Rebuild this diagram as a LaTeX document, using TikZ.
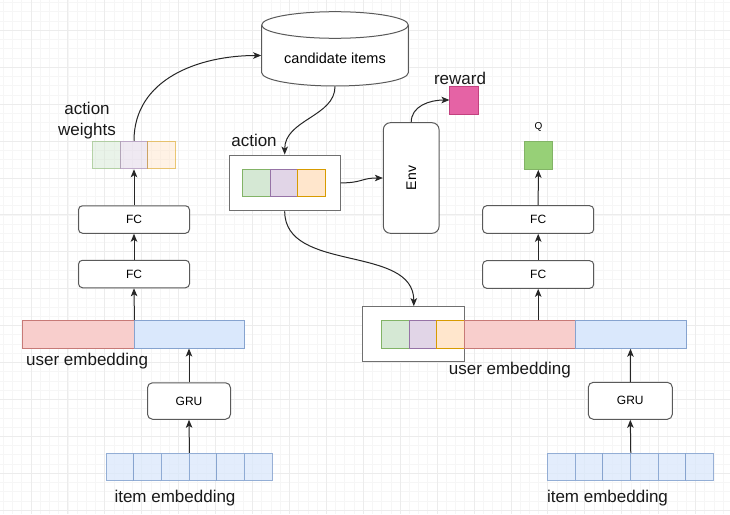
\documentclass[tikz,border=0pt]{standalone}
\usepackage{fontspec}
\setmainfont{Liberation Sans}
\usetikzlibrary{arrows.meta,calc}
\definecolor{gridmin}{HTML}{F6F6F6}
\definecolor{gridmaj}{HTML}{ECECEC}
\definecolor{boxc}{HTML}{5A5A5A}
\definecolor{contc}{HTML}{707070}
\definecolor{linec}{HTML}{262626}
\definecolor{gF}{HTML}{D5E8D4}\definecolor{gD}{HTML}{82B366}
\definecolor{pF}{HTML}{E1D5E7}\definecolor{pD}{HTML}{9673A6}
\definecolor{oF}{HTML}{FFE6CC}\definecolor{oD}{HTML}{D79B00}
\definecolor{rF}{HTML}{F8CECC}\definecolor{rD}{HTML}{C77A77}
\definecolor{bF}{HTML}{DAE8FC}\definecolor{bD}{HTML}{86A3CF}
\definecolor{qF}{HTML}{97D077}\definecolor{qD}{HTML}{82B366}
\definecolor{mF}{HTML}{E563A5}\definecolor{mD}{HTML}{C2417F}
\begin{document}
\begin{tikzpicture}[x=1pt,y=-1pt,line width=1pt,
  gminor/.style={draw=gridmin,line width=0.8pt},
  gmajor/.style={draw=gridmaj,line width=0.9pt},
  rbox/.style={draw=boxc,fill=white,rounded corners=4pt,inner sep=0pt,font=\fontsize{12}{14}\selectfont},
  cont/.style={draw=contc,fill=white,inner sep=0pt},
  cell/.style={inner sep=0pt,line width=0.9pt,minimum width=27.7pt,minimum height=27.6pt},
  gcell/.style={cell,fill=gF,draw=gD},
  pcell/.style={cell,fill=pF,draw=pD},
  ocell/.style={cell,fill=oF,draw=oD},
  rbar/.style={inner sep=0pt,line width=0.9pt,minimum height=27.6pt,fill=rF,draw=rD},
  bbar/.style={inner sep=0pt,line width=0.9pt,minimum height=27.6pt,fill=bF,draw=bD},
  icell/.style={cell,minimum width=27.67pt,fill=bF,fill opacity=0.75,draw=bD,draw opacity=0.85},
  faded/.style={opacity=0.5},
  lab/.style={inner sep=0pt,font=\fontsize{17}{21}\selectfont,text=black!90},
  arr/.style={draw=linec,-{Stealth[length=8pt,width=6.5pt,inset=2pt]}},
  ]
\useasboundingbox (0,0) rectangle (730,514);
\fill[white] (0,0) rectangle (730,514);
% grid
\foreach \i in {0,...,80} {\draw[gminor] ({-5.92+9.23*\i},0) -- ({-5.92+9.23*\i},514);}
\foreach \j in {0,...,57} {\draw[gminor] (0,{-6.62+9.23*\j}) -- (730,{-6.62+9.23*\j});}
\foreach \i in {0,...,20} {\draw[gmajor] ({-5.92+36.92*\i},0) -- ({-5.92+36.92*\i},514);}
\foreach \j in {0,...,14} {\draw[gmajor] (0,{-6.62+36.92*\j}) -- (730,{-6.62+36.92*\j});}

% ---------- left column ----------
\node[gcell,faded] (aw1) at (106.3,155) {};
\node[pcell,faded] (aw2) at (134,155) {};
\node[ocell,faded] (aw3) at (161.7,155) {};
\node[lab,align=center] (awt) at (87,120.5) {action\\weights};
\node[rbox,minimum width=111pt,minimum height=27.5pt] (fcL2) at (134,219.5) {FC};
\node[rbox,minimum width=111pt,minimum height=27.5pt] (fcL1) at (134,274) {FC};
\node[rbar,minimum width=112pt] (ueLp) at (78,334.3) {};
\node[bbar,minimum width=110pt] (ueLb) at (189,334.3) {};
\node[lab,anchor=west] (ueLt) at (25.7,361) {user embedding};
\node[rbox,rounded corners=5pt,minimum width=83pt,minimum height=36.5pt] (gruL) at (189,401) {GRU};
\foreach \i in {1,...,6} {\node[icell] (itL\i) at ({106+27.67*(\i-0.5)},467) {};}
\node[lab] (itLt) at (175,498) {item embedding};

% ---------- middle ----------
\node[inner sep=0pt,minimum width=146.6pt,minimum height=61pt] (cyl) at (335,55.5) {};
\fill[white] (261.7,25) -- (261.7,72.7) .. controls (261.7,80.05) and (294.52,86) .. (335,86)
  .. controls (375.48,86) and (408.3,80.05) .. (408.3,72.7) -- (408.3,25) -- cycle;
\draw[boxc] (261.7,25) -- (261.7,72.7) .. controls (261.7,80.05) and (294.52,86) .. (335,86)
  .. controls (375.48,86) and (408.3,80.05) .. (408.3,72.7) -- (408.3,25);
\draw[boxc,fill=white] (335,25) ellipse [x radius=73.3, y radius=13.3];
\node[inner sep=0pt,font=\fontsize{14.5}{17}\selectfont] (cylt) at (335,58.5) {candidate items};

\node[cont,minimum width=110.7pt,minimum height=55.7pt] (act) at (284.7,182.9) {};
\node[gcell] (ac1) at (256.2,182.9) {};
\node[pcell] (ac2) at (283.9,182.9) {};
\node[ocell] (ac3) at (311.5,182.9) {};
\node[lab] (actt) at (254,140) {action};

\node[rbox,rounded corners=7pt,minimum width=55.7pt,minimum height=110.6pt] (env) at (411.2,178) {};
\node[inner sep=0pt,rotate=90,font=\fontsize{14}{16}\selectfont] (envt) at (411.2,178) {Env};

\node[inner sep=0pt,minimum width=28.7pt,minimum height=28pt,fill=mF,draw=mD] (rew) at (464.3,100) {};
\node[lab] (rewt) at (460,78) {reward};

% ---------- right column ----------
\node[cont,minimum width=102.3pt,minimum height=55.3pt] (cat) at (413.8,334.3) {};
\node[gcell] (cg) at (395.2,334.5) {};
\node[pcell] (cp) at (423,334.5) {};
\node[ocell] (co) at (450.7,334.5) {};
\node[rbar,minimum width=110.3pt] (ueRp) at (519.85,334.5) {};
\node[bbar,minimum width=111pt] (ueRb) at (630.5,334.5) {};
\node[lab] (ueRt) at (509.8,370) {user embedding};
\node[rbox,minimum width=111pt,minimum height=27.6pt] (fcR2) at (538.2,219.5) {FC};
\node[rbox,minimum width=111pt,minimum height=27.6pt] (fcR1) at (538.2,274.5) {FC};
\node[inner sep=0pt,minimum width=28pt,minimum height=28.3pt,fill=qF,draw=qD] (q) at (538.3,155.2) {};
\node[inner sep=0pt,font=\fontsize{10}{12}\selectfont] (qt) at (538.5,127) {Q};
\node[rbox,rounded corners=5pt,minimum width=84pt,minimum height=37pt] (gruR) at (630.3,400.8) {GRU};
\foreach \i in {1,...,6} {\node[icell] (itR\i) at ({547.3+27.67*(\i-0.5)},467) {};}
\node[lab] (itRt) at (607.5,497.7) {item embedding};

% ---------- connectors ----------
\draw[arr] (fcL2.north) -- (aw2.south);
\draw[arr] (fcL1.north) -- (fcL2.south);
\draw[arr] (ueLp.north east) -- (fcL1.south);
\draw[arr] (gruL.north) -- (ueLb.south);
\draw[arr] (itL3.north east) -- (gruL.south);
\draw[arr] (aw2.north) .. controls +(0,-62) and +(-62,0) .. (cyl.west);
\draw[arr] (cyl.south) .. controls +(0,30) and +(0,-35) .. (act.north);
\draw[arr] (act.east) .. controls +(22,0) and +(-22,0) .. (env.west);
\draw[arr] (env.north) .. controls +(0,-16) and +(-20,0) .. (rew.west);
\draw[arr] (act.south) .. controls +(0,62) and +(0,-62) .. (cat.north);
\draw[arr] (fcR2.north) -- (q.south);
\draw[arr] (fcR1.north) -- (fcR2.south);
\draw[arr] (fcR1.south |- ueRp.north) -- (fcR1.south);
\draw[arr] (gruR.north) -- (ueRb.south);
\draw[arr] (itR3.north east) -- (gruR.south);
\end{tikzpicture}
\end{document}
